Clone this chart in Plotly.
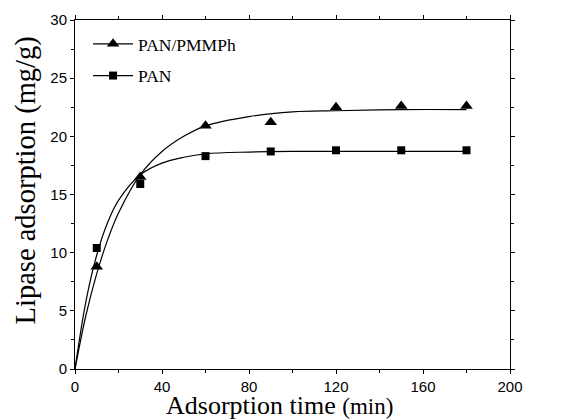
import plotly.graph_objects as go

# measured data
time_pts = [10, 30, 60, 90, 120, 150, 180]
pmmph_vals = [8.8, 16.5, 20.9, 21.2, 22.5, 22.6, 22.6]
pan_vals = [10.4, 15.9, 18.3, 18.7, 18.8, 18.8, 18.8]

# fitted curves
fit_t = [0, 5, 10, 15, 20, 30, 40, 50, 60, 80, 100, 120, 150, 180]
pmmph_fit = [0, 4.6, 8.2, 11.1, 13.4, 16.7, 18.7, 20.0, 20.9, 21.7, 22.1, 22.2, 22.3, 22.3]
pan_fit = [0, 5.8, 9.8, 12.6, 14.5, 16.7, 17.7, 18.2, 18.5, 18.65, 18.7, 18.7, 18.7, 18.7]

series_names = ["PAN/PMMPh", "PAN"]
x_title = "Adsorption time <span style='font-size:23px'>(min)</span>"
y_title = "Lipase adsorption (mg/g)"

fig = go.Figure()
black = "#000000"
serif = "Liberation Serif, Times New Roman, serif"

fig.add_trace(go.Scatter(x=fit_t, y=pmmph_fit, mode="lines", line=dict(color=black, width=1.2, shape="spline"), showlegend=False))
fig.add_trace(go.Scatter(x=fit_t, y=pan_fit, mode="lines", line=dict(color=black, width=1.2, shape="spline"), showlegend=False))
fig.add_trace(go.Scatter(x=time_pts, y=pmmph_vals, mode="markers", marker=dict(symbol="triangle-up", size=11, color=black), showlegend=False))
fig.add_trace(go.Scatter(x=time_pts, y=pan_vals, mode="markers", marker=dict(symbol="square", size=8, color=black), showlegend=False))

# legend entries
fig.add_trace(go.Scatter(x=[None], y=[None], mode="lines+markers", name=series_names[0], legendgroup="a",
                         line=dict(color=black, width=1.2), marker=dict(symbol="triangle-up", size=11, color=black)))
fig.add_trace(go.Scatter(x=[None], y=[None], mode="lines+markers", name=series_names[1], legendgroup="b",
                         line=dict(color=black, width=1.2), marker=dict(symbol="square", size=8, color=black)))

axis_common = dict(showline=True, linecolor=black, linewidth=1, mirror="ticks", ticks="outside",
                   ticklen=4, tickcolor=black, showgrid=False, zeroline=False, automargin=False,
                   tickfont=dict(family="Liberation Sans, Arial", size=15, color=black))

fig.update_xaxes(range=[0, 200], tick0=0, dtick=40,
                 minor=dict(ticks="outside", ticklen=3, dtick=20, tickcolor=black, showgrid=False),
                 **axis_common)
fig.update_yaxes(range=[0, 30], tick0=0, dtick=5,
                 minor=dict(ticks="outside", ticklen=3, dtick=2.5, tickcolor=black, showgrid=False),
                 **axis_common)

fig.add_annotation(text=x_title, xref="paper", yref="paper", x=0.471, y=-0.105,
                   xanchor="center", yanchor="middle", showarrow=False,
                   font=dict(family=serif, size=26, color=black))
fig.add_annotation(text=y_title, xref="paper", yref="paper", x=-0.113, y=0.54,
                   xanchor="center", yanchor="middle", showarrow=False, textangle=-90,
                   font=dict(family=serif, size=28.5, color=black))

# page body has an 8px margin; figure is shrunk so the plot area sits where the reference has it
fig.update_layout(
    width=560, height=412,
    margin=dict(l=67, r=58, t=12, b=51),
    paper_bgcolor="white", plot_bgcolor="white",
    legend=dict(x=0.03, y=0.983, xanchor="left", yanchor="top", bgcolor="rgba(0,0,0,0)",
                font=dict(family=serif, size=17.5, color=black),
                itemwidth=40, tracegroupgap=6),
)

fig.write_html("out.html")
